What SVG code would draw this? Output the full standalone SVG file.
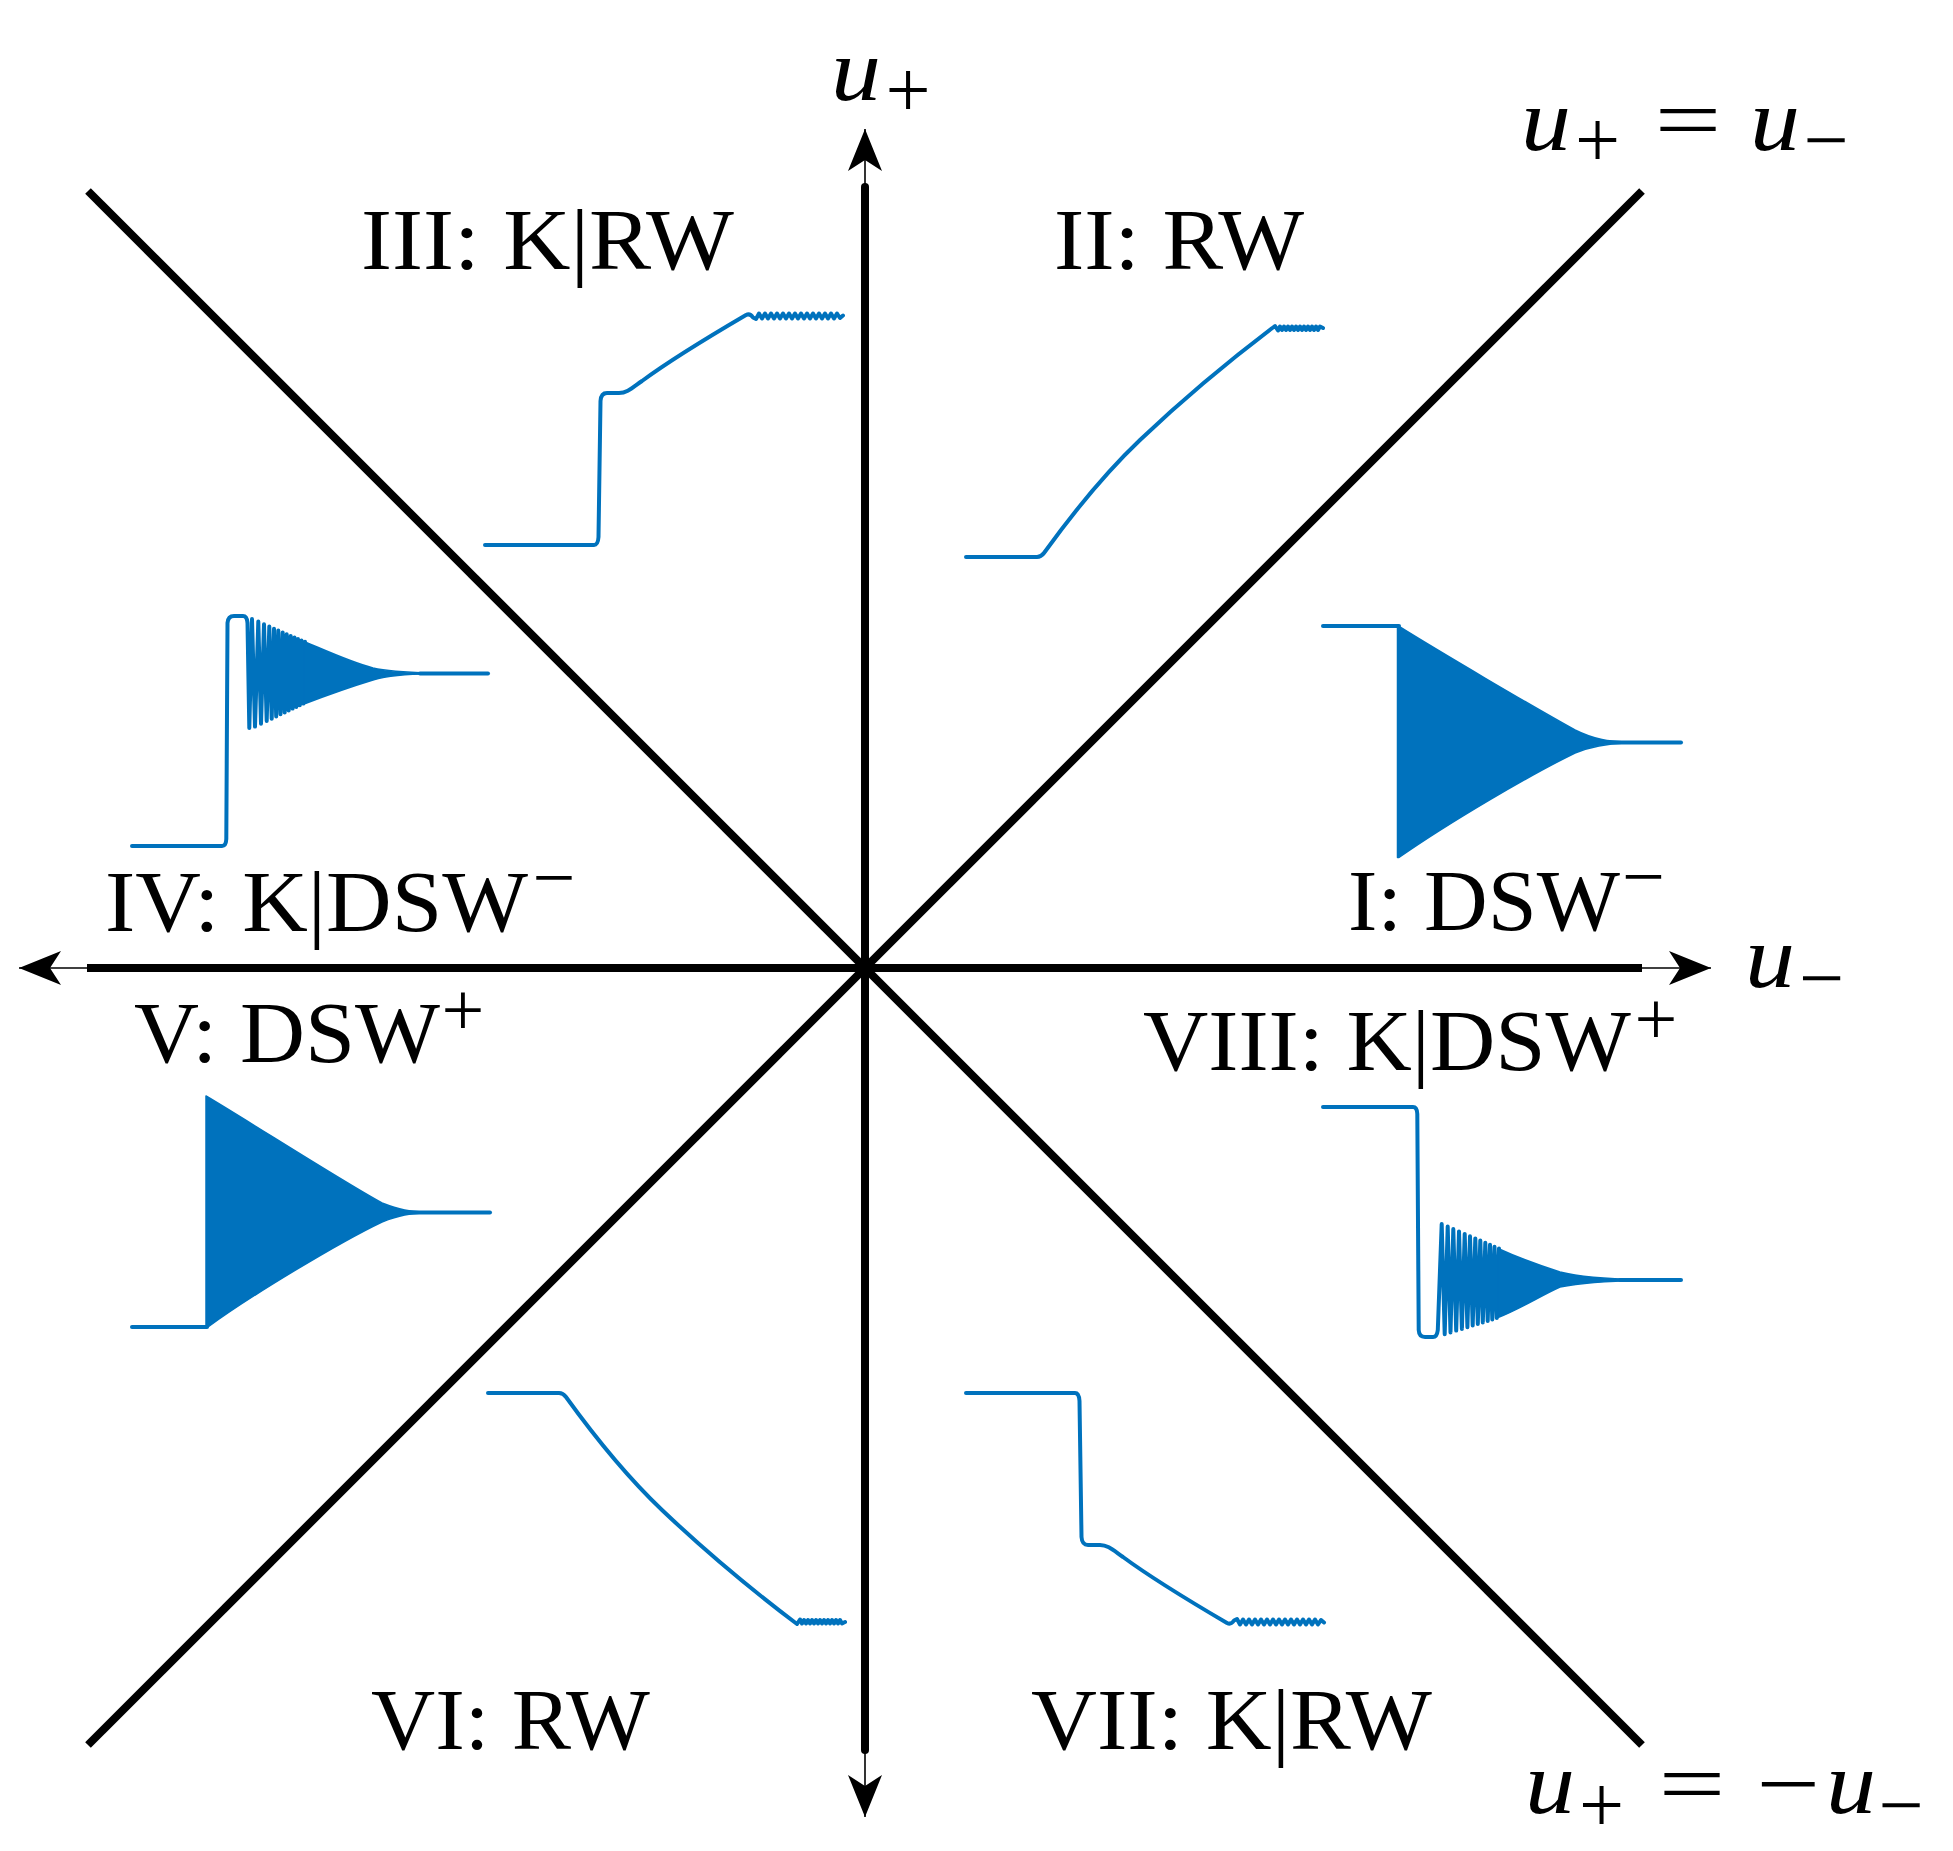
<svg xmlns="http://www.w3.org/2000/svg" xmlns:xlink="http://www.w3.org/1999/xlink" width="1953" height="1851" viewBox="0 0 1953 1851">
<style>
.ax{stroke:#000;stroke-width:8;fill:none}
.thin{stroke:#000;stroke-width:1.6;fill:none}
.wave{stroke:#0072BD;stroke-width:4;fill:none;stroke-linejoin:round;stroke-linecap:round}
.dsw{fill:#0072BD;stroke:#0072BD;stroke-width:1.5;stroke-linejoin:round}
text{font-family:"Liberation Serif","Times New Roman",serif;fill:#000}
.lbl{font-size:86px}
.sup{font-size:76px;text-anchor:middle}
.mi{font-style:italic;font-size:88px;text-anchor:middle}
.op{font-size:86px;text-anchor:middle}
.sub{font-size:80px;text-anchor:middle}
</style>
<defs>
<marker id="arr" markerUnits="userSpaceOnUse" viewBox="-46 -20 50 40" markerWidth="50" markerHeight="40" refX="0" refY="0" orient="auto">
<path d="M0,0 L-42,-17 L-31,0 L-42,17 Z" fill="#000"/>
</marker>
</defs>
<rect width="1953" height="1851" fill="#fff"/>

<g id="connectors">
<g id="diagonals">
<line class="ax" x1="88" y1="191" x2="1642" y2="1745"/>
<line class="ax" x1="1642" y1="191" x2="88" y2="1745"/>
</g>
<g id="axis-u-minus">
<line class="ax" x1="87" y1="968" x2="1642" y2="968"/>
<line class="thin" x1="1640" y1="968" x2="1711" y2="968" marker-end="url(#arr)"/>
<line class="thin" x1="89" y1="968" x2="19" y2="968" marker-end="url(#arr)"/>
</g>
<g id="axis-u-plus">
<line class="ax" x1="865" y1="187" x2="865" y2="1750" stroke-linecap="round"/>
<line class="thin" x1="865" y1="189" x2="865" y2="129" marker-end="url(#arr)"/>
<line class="thin" x1="865" y1="1748" x2="865" y2="1817" marker-end="url(#arr)"/>
</g>
</g>

<g id="axis-labels">
<g id="label-u-plus">
<text class="mi" x="856" y="100" textLength="50" lengthAdjust="spacingAndGlyphs">u</text>
<text class="sub" x="908" y="117">+</text>
</g>
<g id="label-u-minus">
<text class="mi" x="1770" y="987" textLength="50" lengthAdjust="spacingAndGlyphs">u</text>
<text class="sub" x="1821.5" y="1005">−</text>
</g>
<g id="label-diag1">
<text class="mi" x="1546" y="150" textLength="50" lengthAdjust="spacingAndGlyphs">u</text>
<text class="sub" x="1597.5" y="167">+</text>
<text class="op" x="1688" y="149" textLength="67" lengthAdjust="spacingAndGlyphs">=</text>
<text class="mi" x="1775" y="150" textLength="50" lengthAdjust="spacingAndGlyphs">u</text>
<text class="sub" x="1826" y="167">−</text>
</g>
<g id="label-diag2">
<text class="mi" x="1550" y="1813" textLength="50" lengthAdjust="spacingAndGlyphs">u</text>
<text class="sub" x="1601.5" y="1832">+</text>
<text class="op" x="1692" y="1813" textLength="67" lengthAdjust="spacingAndGlyphs">=</text>
<text class="op" x="1788.5" y="1813" textLength="64" lengthAdjust="spacingAndGlyphs">−</text>
<text class="mi" x="1851" y="1813" textLength="50" lengthAdjust="spacingAndGlyphs">u</text>
<text class="sub" x="1901" y="1832">−</text>
</g>
</g>

<g id="region-I">
<text class="lbl" x="1348" y="930" textLength="272" lengthAdjust="spacingAndGlyphs">I: DSW</text>
<text class="sup" x="1643.5" y="902">−</text>
<path class="wave" d="M1323,626 L1399,626"/>
<path class="dsw" d="M1397.5,625.5 C1440,652 1530,705 1575,730 C1595,740 1610,741.5 1625,742 L1625,743 C1610,743.5 1595,745 1575,753 C1530,775 1450,822 1399,857.5 L1397.5,857.5 Z"/>
<path class="wave" d="M1600,742.5 L1681,742.5"/>
</g>

<g id="region-II">
<text class="lbl" x="1054" y="269" textLength="250" lengthAdjust="spacingAndGlyphs">II: RW</text>
<path id="rw-curve" class="wave" d="M966,557 L1037,557 Q1041,557 1044,553 C1070,517 1100,478 1140,440 C1180,402 1230,360 1275,326 L1278,330.5 L1280,326.5 L1282,330 L1284,326.5 L1286,330 L1288,326.5 L1290,330 L1292,326.5 L1294,330 L1296,326.5 L1298,330 L1300,326.5 L1302,330 L1304,326.5 L1306,330 L1308,326.5 L1310,330 L1312,326.5 L1314,330 L1316,326.5 L1318,330 L1320,326.5 L1323,328"/>
</g>

<g id="region-III">
<text class="lbl" x="361" y="269" textLength="373" lengthAdjust="spacingAndGlyphs">III: K|RW</text>
<path id="krw-curve" class="wave" d="M485,545 L594,545 Q598,545 598.5,537 L600.5,401 Q601,393 607,393 L619,393 C627,393 632,388 642,381 C665,364 705,339 746,315 Q750,313 753,317.5 L756,319 L759,313.5 L762,318.5 L765,313.5 L768,318.5 L771,313.5 L774,318.5 L777,313.5 L780,318.5 L783,313.5 L786,318.5 L789,313.5 L792,318.5 L795,313.5 L798,318.5 L801,313.5 L804,318.5 L807,313.5 L810,318.5 L813,313.5 L816,318.5 L819,313.5 L822,318.5 L825,313.5 L828,318.5 L831,313.5 L834,318.5 L837,313.5 L840,318 L843,315.5"/>
</g>

<g id="region-IV">
<text class="lbl" x="105" y="931" textLength="423" lengthAdjust="spacingAndGlyphs">IV: K|DSW</text>
<text class="sup" x="554" y="903">−</text>
<path class="wave" d="M132,846 L222,846 Q226,846 226.3,839 L227.5,623 Q228,616 234,616 L243,616 Q247,616 247.5,623 L249.3,728 L252,619 L255,726.6 L258.3,621.6 L261,723.7 L264,624.3 L266.7,721 L269.3,626.5 L271.7,718.7 L274,628.7 L276.2,716.5 L278.3,630.5 L280.5,714.3 L282.7,632.6 L284.7,712.4 L286.7,634.3 L288.7,710.5 L290.7,636 L292.6,708.6 L294.5,637.5 L296.3,707 L298,639 L299.8,705.2 L301.5,640.5 L303.3,703.6 L305,641.8"/>
<path class="dsw" d="M304,641.5 C320,648 350,662 373,668 C390,672 410,672.5 430,673 L430,674 C410,674 390,675 373,680 C350,687 325,696 304,704 Z"/>
<path class="wave" d="M420,673.5 L488,673.5"/>
</g>

<g id="region-V">
<text class="lbl" x="134" y="1062" textLength="306" lengthAdjust="spacingAndGlyphs">V: DSW</text>
<text class="sup" x="463" y="1035">+</text>
<path class="wave" d="M132,1327 L207,1327"/>
<path class="dsw" d="M206,1096 C250,1122 340,1180 382,1203 C400,1210 410,1211.5 425,1212 L425,1213 C410,1213.5 400,1215 382,1222 C340,1242 250,1296 208,1327 L206,1327 Z"/>
<path class="wave" d="M400,1212.5 L490,1212.5"/>
</g>

<g id="region-VI">
<text class="lbl" x="371" y="1749" textLength="279" lengthAdjust="spacingAndGlyphs">VI: RW</text>
<use xlink:href="#rw-curve" href="#rw-curve" transform="translate(-478,1950) scale(1,-1)"/>
</g>

<g id="region-VII">
<text class="lbl" x="1031" y="1749" textLength="401" lengthAdjust="spacingAndGlyphs">VII: K|RW</text>
<use xlink:href="#krw-curve" href="#krw-curve" transform="translate(481,1938) scale(1,-1)"/>
</g>

<g id="region-VIII">
<text class="lbl" x="1143" y="1070" textLength="488" lengthAdjust="spacingAndGlyphs">VIII: K|DSW</text>
<text class="sup" x="1656" y="1044">+</text>
<path class="wave" d="M1323,1107 L1413,1107 Q1417,1107 1417.3,1114 L1418.7,1330 Q1419,1337 1425,1337 L1433,1337 Q1437,1337 1437.8,1330 L1441.7,1224 L1444.7,1334.2 L1447.7,1226.5 L1450.5,1332.4 L1453.3,1229 L1456.2,1330.6 L1459,1231.4 L1461.9,1328.9 L1464.7,1233.9 L1467.4,1327.2 L1470,1236.2 L1472.7,1325.5 L1475.3,1238.4 L1477.8,1324 L1480.3,1240.6 L1482.8,1322.4 L1485.3,1242.7 L1487.7,1320.9 L1490,1244.8 L1492.3,1319.4 L1494.5,1246.7 L1496.8,1318 L1499,1248.6"/>
<path class="dsw" d="M1498,1248.5 C1510,1254 1535,1264 1560,1272 C1580,1277 1610,1279 1640,1279.5 L1640,1280.5 C1610,1281 1580,1283 1560,1287 C1540,1296 1520,1309 1498,1317.5 Z"/>
<path class="wave" d="M1620,1280 L1681,1280"/>
</g>
</svg>
